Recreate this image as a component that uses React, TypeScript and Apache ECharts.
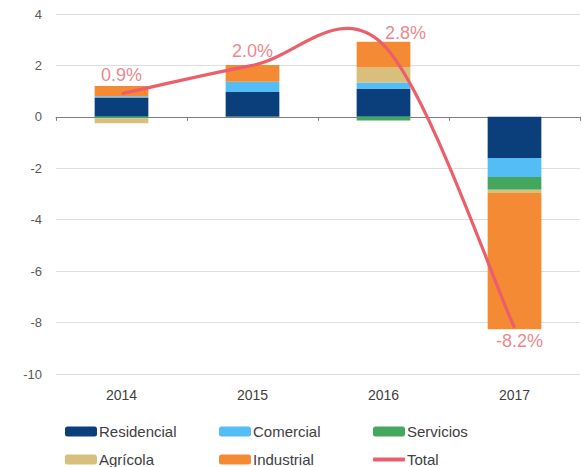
import React, { useEffect, useRef } from "react";
import * as echarts from "echarts";

const years = ["2014", "2015", "2016", "2017"];
const residencial = [0.75, 0.97, 1.08, -1.6];
const comercial = [0.05, 0.4, 0.26, -0.74];
const servicios = [-0.05, -0.02, -0.14, -0.49];
const agricola = [-0.2, 0, 0.58, -0.13];
const industrial = [0.4, 0.65, 1.0, -5.3];
const total = [0.9, 2.0, 2.8, -8.2];
const totalLabels = ["0.9%", "2.0%", "2.8%", "-8.2%"];

const COLORS: Record<string, string> = {
  Residencial: "#0b3f7c",
  Comercial: "#55bdf5",
  Servicios: "#45a65e",
  "Agrícola": "#d8bf7b",
  Industrial: "#f58a34",
  Total: "#ea5f6a",
};

const labelTweaks = [
  { position: "top", distance: 10, offset: [0, 0] },
  { position: "top", distance: 5, offset: [0, 0] },
  { position: "top", distance: 3, offset: [22, 0] },
  { position: "bottom", distance: 4, offset: [5, 0] },
];

// Excel-like smoothed line (Catmull-Rom, tension 1/6) through the data points
function splinePath(pts: number[][]): string {
  let d = `M${pts[0][0]},${pts[0][1]}`;
  for (let i = 0; i < pts.length - 1; i++) {
    const p0 = pts[Math.max(0, i - 1)];
    const p1 = pts[i];
    const p2 = pts[i + 1];
    const p3 = pts[Math.min(pts.length - 1, i + 2)];
    const c1x = p1[0] + (p2[0] - p0[0]) / 6;
    const c1y = p1[1] + (p2[1] - p0[1]) / 6;
    const c2x = p2[0] - (p3[0] - p1[0]) / 6;
    const c2y = p2[1] - (p3[1] - p1[1]) / 6;
    d += ` C${c1x},${c1y} ${c2x},${c2y} ${p2[0]},${p2[1]}`;
  }
  return d;
}

export default function App() {
  const ref = useRef<HTMLDivElement>(null);
  useEffect(() => {
    if (!ref.current) return;
    const chart = echarts.init(ref.current, null, { renderer: "svg" });
    const barSeries = (name: string, data: number[]) => ({
      name,
      type: "bar",
      stack: "s",
      data,
      barWidth: "41%",
      xAxisIndex: 0,
      itemStyle: { color: COLORS[name] },
    });
    const legendCommon = {
      orient: "vertical",
      top: 419,
      height: 60,
      itemWidth: 32,
      itemHeight: 10,
      itemGap: 13,
      textStyle: {
        fontFamily: "Liberation Sans, Arial, sans-serif",
        fontSize: 15,
        color: "#404040",
        padding: [0, 0, 0, -3],
      },
    };
    chart.setOption({
      animation: false,
      textStyle: { fontFamily: "Liberation Sans, Arial, sans-serif" },
      grid: { left: 56, right: 3, top: 14, bottom: 93, containLabel: false },
      legend: [
        { ...legendCommon, left: 60, data: ["Residencial", "Agrícola"] },
        { ...legendCommon, left: 214, data: ["Comercial", "Industrial"] },
        { ...legendCommon, left: 368, data: ["Servicios"] },
        { ...legendCommon, left: 368, top: 447, itemHeight: 4, data: [{ name: "Total", icon: "roundRect" }] },
      ],
      xAxis: [
        {
          type: "category",
          data: years,
          position: "bottom",
          axisLine: { show: false, onZero: false },
          axisTick: { show: false },
          axisLabel: { color: "#404040", fontSize: 14, margin: 14 },
        },
        {
          type: "category",
          data: years,
          position: "bottom",
          axisLine: { show: true, onZero: true, lineStyle: { color: "#7f7f7f", width: 1 } },
          axisTick: { show: true, length: 4, lineStyle: { color: "#7f7f7f" } },
          axisLabel: { show: false },
        },
      ],
      yAxis: {
        type: "value",
        min: -10,
        max: 4,
        interval: 2,
        axisLine: { show: false },
        axisTick: { show: false },
        splitLine: { lineStyle: { color: "#dedede", width: 1 } },
        axisLabel: { color: "#595959", fontSize: 13, margin: 14 },
      },
      series: [
        barSeries("Residencial", residencial),
        barSeries("Comercial", comercial),
        barSeries("Servicios", servicios),
        barSeries("Agrícola", agricola),
        barSeries("Industrial", industrial),
        {
          name: "Total",
          type: "custom",
          xAxisIndex: 0,
          z: 5,
          itemStyle: { color: COLORS.Total },
          data: total,
          renderItem: (params: any, api: any) => {
            if (params.dataIndex !== 0) return null;
            const pts = total.map((v, i) => api.coord([i, v]));
            return {
              type: "path",
              shape: { pathData: splinePath(pts) },
              style: { fill: "none", stroke: COLORS.Total, lineWidth: 3.2 },
            };
          },
        },
        {
          name: "TotalLabels",
          type: "scatter",
          xAxisIndex: 0,
          symbolSize: 0,
          z: 6,
          itemStyle: { color: "transparent" },
          data: total.map((v, i) => ({
            value: v,
            label: {
              show: true,
              formatter: totalLabels[i],
              position: labelTweaks[i].position,
              distance: labelTweaks[i].distance,
              offset: labelTweaks[i].offset,
              color: "#e8656f",
              fontSize: 18,
            },
          })),
        },
      ],
    });
    return () => chart.dispose();
  }, []);
  return <div ref={ref} style={{ width: 583, height: 467, position: "absolute", left: 0, top: 0 }} />;
}
